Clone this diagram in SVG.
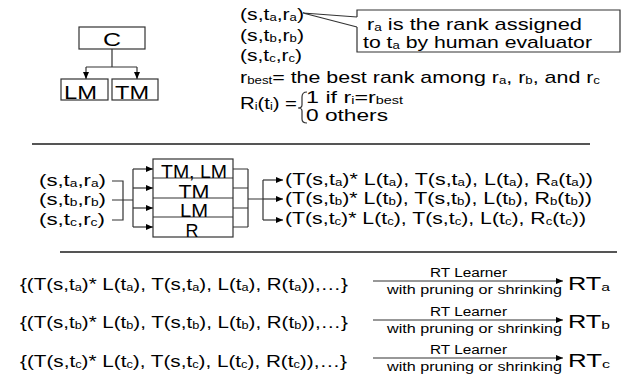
<svg xmlns="http://www.w3.org/2000/svg" width="639" height="380" viewBox="0 0 639 380">
<style>
text{font-family:"Liberation Sans",Arial,sans-serif;fill:#000;}
.t15{font-size:17px;}
.t17{font-size:19px;}
.t11{font-size:12px;}
.s{font-size:62%;baseline-shift:-1px;}
.box{fill:#fff;stroke:#333;stroke-width:1.2;}
.ln{fill:none;stroke:#333;stroke-width:1.2;}
.sep{stroke:#555;stroke-width:2;}
</style>
<defs>
<marker id="ah" markerUnits="userSpaceOnUse" markerWidth="8" markerHeight="6" refX="7" refY="3" orient="auto">
<path d="M0,0 L7,3 L0,6 z" fill="#000"/>
</marker>
</defs>
<rect width="639" height="380" fill="#fff"/>

<g id="connectors">
<path class="ln" d="M112,49 V67 M86,67 H137"/>
<path class="ln" d="M86,67 V79" marker-end="url(#ah)"/>
<path class="ln" d="M137,67 V79" marker-end="url(#ah)"/>
<path class="ln" d="M303,13 L357,17 M303,13 L357,27"/>
<path class="ln" d="M112,181 H123 V220 H112 M112,200 H133 M133,169 V227"/>
<path class="ln" d="M133,169 H153" marker-end="url(#ah)"/>
<path class="ln" d="M133,188 H153" marker-end="url(#ah)"/>
<path class="ln" d="M133,208 H153" marker-end="url(#ah)"/>
<path class="ln" d="M133,227 H153" marker-end="url(#ah)"/>
<path class="ln" d="M233,169 H248 M233,188 H248 M233,208 H248 M233,227 H248 M248,169 V227 M248,199 H263 M263,180 V220"/>
<path class="ln" d="M263,180 H283" marker-end="url(#ah)"/>
<path class="ln" d="M263,199 H283" marker-end="url(#ah)"/>
<path class="ln" d="M263,220 H283" marker-end="url(#ah)"/>
<path class="ln" d="M373,281 H563" marker-end="url(#ah)"/>
<path class="ln" d="M373,320 H563" marker-end="url(#ah)"/>
<path class="ln" d="M373,358 H563" marker-end="url(#ah)"/>
</g>

<g id="node-C"><rect class="box" x="79" y="27" width="66" height="22"/><text class="t17" x="103" y="46" textLength="18" lengthAdjust="spacingAndGlyphs">C</text></g>
<g id="node-LM"><rect class="box" x="61" y="79" width="47" height="21"/><text class="t17" x="64" y="99" textLength="33" lengthAdjust="spacingAndGlyphs">LM</text></g>
<g id="node-TM"><rect class="box" x="112" y="79" width="46" height="21"/><text class="t17" x="115" y="99" textLength="34" lengthAdjust="spacingAndGlyphs">TM</text></g>

<g id="definitions">
<text class="t15" x="240" y="20" textLength="64" lengthAdjust="spacingAndGlyphs">(s,t<tspan class="s">a</tspan>,r<tspan class="s">a</tspan>)</text>
<text class="t15" x="240" y="41" textLength="64" lengthAdjust="spacingAndGlyphs">(s,t<tspan class="s">b</tspan>,r<tspan class="s">b</tspan>)</text>
<text class="t15" x="240" y="61" textLength="62" lengthAdjust="spacingAndGlyphs">(s,t<tspan class="s">c</tspan>,r<tspan class="s">c</tspan>)</text>
<text class="t15" x="240" y="83" textLength="360" lengthAdjust="spacingAndGlyphs">r<tspan class="s">best</tspan>= the best rank among r<tspan class="s">a</tspan>, r<tspan class="s">b</tspan>, and r<tspan class="s">c</tspan></text>
<text class="t15" x="240" y="109" textLength="57" lengthAdjust="spacingAndGlyphs">R<tspan class="s">i</tspan>(t<tspan class="s">i</tspan>) =</text>
<path class="ln" d="M307,92 Q302,92 302,97 V105 Q302,108 298,108 Q302,108 302,111 V119 Q302,123 307,123"/>
<text class="t15" x="306" y="103" textLength="97" lengthAdjust="spacingAndGlyphs">1 if r<tspan class="s">i</tspan>=r<tspan class="s">best</tspan></text>
<text class="t15" x="306" y="121" textLength="82" lengthAdjust="spacingAndGlyphs">0 others</text>
</g>

<g id="callout">
<path d="M357,10 H620 V52 H357 Z" fill="#fff" stroke="none"/>
<path class="ln" d="M357,17 V10 H620 V52 H357 V27"/>
<text class="t15" x="367" y="30" textLength="215" lengthAdjust="spacingAndGlyphs">r<tspan class="s">a</tspan> is the rank assigned</text>
<text class="t15" x="363" y="48" textLength="229" lengthAdjust="spacingAndGlyphs">to t<tspan class="s">a</tspan> by human evaluator</text>
</g>

<line id="separator-1" class="sep" x1="32" y1="144" x2="590" y2="144"/>

<g id="inputs">
<text class="t15" x="39" y="186" textLength="67" lengthAdjust="spacingAndGlyphs">(s,t<tspan class="s">a</tspan>,r<tspan class="s">a</tspan>)</text>
<text class="t15" x="39" y="205" textLength="67" lengthAdjust="spacingAndGlyphs">(s,t<tspan class="s">b</tspan>,r<tspan class="s">b</tspan>)</text>
<text class="t15" x="39" y="225" textLength="66" lengthAdjust="spacingAndGlyphs">(s,t<tspan class="s">c</tspan>,r<tspan class="s">c</tspan>)</text>
</g>

<g id="feature-box">
<rect class="box" x="153" y="159" width="80" height="78"/>
<path class="ln" d="M153,178 H233 M153,198 H233 M153,217 H233"/>
<text class="t17" x="194" y="178" text-anchor="middle" textLength="66" lengthAdjust="spacingAndGlyphs">TM, LM</text>
<text class="t17" x="194" y="198" text-anchor="middle" textLength="31" lengthAdjust="spacingAndGlyphs">TM</text>
<text class="t17" x="194" y="217" text-anchor="middle" textLength="28" lengthAdjust="spacingAndGlyphs">LM</text>
<text class="t17" x="192" y="237" text-anchor="middle" textLength="13" lengthAdjust="spacingAndGlyphs">R</text>
</g>

<g id="outputs">
<text class="t15" x="285" y="185" textLength="308" lengthAdjust="spacingAndGlyphs">(T(s,t<tspan class="s">a</tspan>)* L(t<tspan class="s">a</tspan>), T(s,t<tspan class="s">a</tspan>), L(t<tspan class="s">a</tspan>), R<tspan class="s">a</tspan>(t<tspan class="s">a</tspan>))</text>
<text class="t15" x="285" y="204" textLength="307" lengthAdjust="spacingAndGlyphs">(T(s,t<tspan class="s">b</tspan>)* L(t<tspan class="s">b</tspan>), T(s,t<tspan class="s">b</tspan>), L(t<tspan class="s">b</tspan>), R<tspan class="s">b</tspan>(t<tspan class="s">b</tspan>))</text>
<text class="t15" x="285" y="224" textLength="301" lengthAdjust="spacingAndGlyphs">(T(s,t<tspan class="s">c</tspan>)* L(t<tspan class="s">c</tspan>), T(s,t<tspan class="s">c</tspan>), L(t<tspan class="s">c</tspan>), R<tspan class="s">c</tspan>(t<tspan class="s">c</tspan>))</text>
</g>

<line id="separator-2" class="sep" x1="60" y1="252" x2="617" y2="252"/>

<g id="training-sets">
<text class="t15" x="20" y="290" textLength="328" lengthAdjust="spacingAndGlyphs">{(T(s,t<tspan class="s">a</tspan>)* L(t<tspan class="s">a</tspan>), T(s,t<tspan class="s">a</tspan>), L(t<tspan class="s">a</tspan>), R(t<tspan class="s">a</tspan>)),…}</text>
<text class="t15" x="20" y="328" textLength="328" lengthAdjust="spacingAndGlyphs">{(T(s,t<tspan class="s">b</tspan>)* L(t<tspan class="s">b</tspan>), T(s,t<tspan class="s">b</tspan>), L(t<tspan class="s">b</tspan>), R(t<tspan class="s">b</tspan>)),…}</text>
<text class="t15" x="20" y="367" textLength="327" lengthAdjust="spacingAndGlyphs">{(T(s,t<tspan class="s">c</tspan>)* L(t<tspan class="s">c</tspan>), T(s,t<tspan class="s">c</tspan>), L(t<tspan class="s">c</tspan>), R(t<tspan class="s">c</tspan>)),…}</text>
</g>

<g id="learner-labels">
<text class="t11" x="430" y="277" textLength="77" lengthAdjust="spacingAndGlyphs">RT Learner</text>
<text class="t11" x="387" y="294" textLength="175" lengthAdjust="spacingAndGlyphs">with pruning or shrinking</text>
<text class="t11" x="430" y="316" textLength="77" lengthAdjust="spacingAndGlyphs">RT Learner</text>
<text class="t11" x="387" y="333" textLength="175" lengthAdjust="spacingAndGlyphs">with pruning or shrinking</text>
<text class="t11" x="430" y="354" textLength="77" lengthAdjust="spacingAndGlyphs">RT Learner</text>
<text class="t11" x="387" y="371" textLength="175" lengthAdjust="spacingAndGlyphs">with pruning or shrinking</text>
</g>

<g id="node-RTa"><text class="t17" x="568" y="290" textLength="42" lengthAdjust="spacingAndGlyphs">RT<tspan class="s">a</tspan></text></g>
<g id="node-RTb"><text class="t17" x="568" y="328" textLength="42" lengthAdjust="spacingAndGlyphs">RT<tspan class="s">b</tspan></text></g>
<g id="node-RTc"><text class="t17" x="568" y="367" textLength="42" lengthAdjust="spacingAndGlyphs">RT<tspan class="s">c</tspan></text></g>
</svg>
